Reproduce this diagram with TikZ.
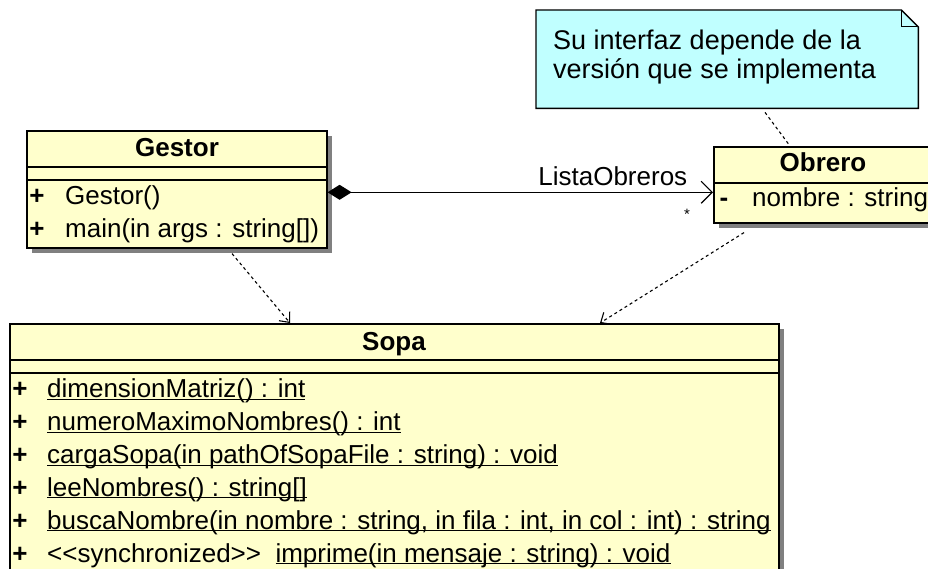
\documentclass[tikz,border=0pt]{standalone}
\usepackage{fontspec}
\setmainfont{Liberation Sans}
\usetikzlibrary{arrows.meta,shadows,positioning}
\definecolor{classyellow}{RGB}{255,255,204}
\definecolor{notecyan}{RGB}{192,255,255}
\newcommand{\umlfont}{\fontsize{26}{30}\selectfont}
\newcommand{\statictxt}[1]{\underline{\smash{#1}}}

\begin{document}
\begin{tikzpicture}[
    x=1pt, y=-1pt,
    classbox/.style={rectangle, draw=black, fill=classyellow, line width=1.6pt, anchor=north west, inner sep=0pt,
        drop shadow={shadow xshift=5pt, shadow yshift=-5pt, fill=black!50, opacity=1}},
    classname/.style={anchor=base, inner sep=0pt, font=\umlfont\bfseries},
    member/.style={anchor=base west, inner sep=0pt, font=\umlfont},
    vis/.style={anchor=base, inner sep=0pt, font=\umlfont\bfseries},
    compline/.style={line width=1.2pt},
    notebox/.style={rectangle, anchor=north west, inner sep=0pt},
    notetext/.style={anchor=base west, inner sep=0pt, font=\fontsize{27}{31}\selectfont},
    deplink/.style={line width=1.1pt, dash pattern=on 3pt off 3pt, -{Straight Barb[length=8pt,width=14pt]}},
    notelink/.style={line width=1.1pt, dash pattern=on 3pt off 3pt},
    assoc/.style={line width=1.2pt, {Diamond[length=24pt,width=15pt]}-{Straight Barb[length=11pt,width=22pt]}}
]
\useasboundingbox (0,0) rectangle (928,569);
\clip (0,0) rectangle (928,569);

% ==================== NOTE ====================
\node[notebox, minimum width=382pt, minimum height=98pt] (note) at (536,10) {};
\filldraw[fill=notecyan, draw=black, line width=1.4pt]
    (note.north west) -- ([xshift=-17pt]note.north east) -- ([yshift=-17pt]note.north east)
    -- (note.south east) -- (note.south west) -- cycle;
\draw[line width=1pt] ([xshift=-17pt]note.north east) -- ([xshift=-17pt,yshift=-17pt]note.north east) -- ([yshift=-17pt]note.north east);
\node[notetext] (note_l1) at (553,50) {Su interfaz depende de la};
\node[notetext] (note_l2) at (553,79) {versión que se implementa};

% ==================== GESTOR ====================
\node[classbox, minimum width=300pt, minimum height=117pt] (gestor) at (26,130) {};
\node[classname] (gestor_t) at (177,157) {Gestor};
\draw[compline] (gestor.west |- 0,167) -- (gestor.east |- 0,167);
\draw[compline] (gestor.west |- 0,180) -- (gestor.east |- 0,180);
\node[vis] at (37,205) {+};
\node[member] (gestor_m1) at (65,205) {Gestor()};
\node[vis] at (37,238) {+};
\node[member] (gestor_m2) at (65,238) {main(in args : string[])};

% ==================== OBRERO ====================
\node[classbox, minimum width=220pt, minimum height=76pt] (obrero) at (713,146) {};
\node[classname] (obrero_t) at (823,172) {Obrero};
\draw[compline] (obrero.west |- 0,183) -- (obrero.east |- 0,183);
\node[vis] at (724,207) {-};
\node[member] (obrero_a1) at (752,207) {nombre : string};

% ==================== SOPA ====================
\node[classbox, minimum width=769pt, minimum height=280pt] (sopa) at (9,323) {};
\node[classname] (sopa_t) at (394,350) {Sopa};
\draw[compline] (sopa.west |- 0,360) -- (sopa.east |- 0,360);
\draw[compline] (sopa.west |- 0,373) -- (sopa.east |- 0,373);
\foreach \row/\txt in {
    0/{\statictxt{dimensionMatriz() : int}},
    1/{\statictxt{numeroMaximoNombres() : int}},
    2/{\statictxt{cargaSopa(in pathOfSopaFile : string) : void}},
    3/{\statictxt{leeNombres() : string[]}},
    4/{\statictxt{buscaNombre(in nombre : string, in fila : int, in col : int) : string}},
    5/{<\kern0pt<synchronized>\kern0pt>\ \ \statictxt{imprime(in mensaje : string) : void}}} {
    \node[vis] at (20,397.5+32.9*\row) {+};
    \node[member] (sopa_m\row) at (47,397.5+32.9*\row) {\txt};
}

% ==================== RELATIONS ====================
\draw[assoc] ([yshift=-3pt]gestor.east) -- ([yshift=-3pt]gestor.east -| obrero.west)
    node[pos=0.74, above=3pt, font=\umlfont] (rolename) {ListaObreros};
\node[font=\fontsize{15}{18}\selectfont] (mult) at (687,214) {*};

\draw[deplink] ([xshift=206pt,yshift=-5pt]gestor.south west) -- ([xshift=281pt]sopa.north west);
\draw[deplink] ([xshift=31pt,yshift=-9pt]obrero.south west) -- ([xshift=591pt]sopa.north west);
\draw[notelink] ([xshift=229pt,yshift=-4pt]note.south west) -- ([xshift=77pt]obrero.north west);

\end{tikzpicture}
\end{document}
